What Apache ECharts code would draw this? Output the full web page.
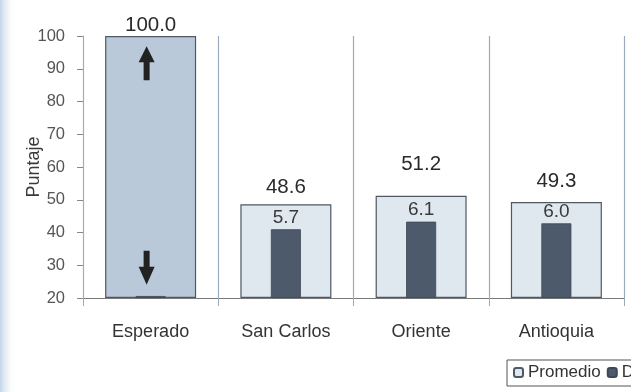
<!DOCTYPE html>
<html>
<head>
<meta charset="utf-8">
<script src="https://cdn.jsdelivr.net/npm/echarts@6/dist/echarts.min.js"></script>
<style>
html,body{margin:0;padding:0;background:#fff;}
#c{width:631px;height:392px;}
</style>
</head>
<body>
<div id="c"></div>
<script>
var categories = ['Esperado', 'San Carlos', 'Oriente', 'Antioquia'];
var promedio = [100.0, 48.6, 51.2, 49.3];
var promedioLabelGap = [0, 6, 21, 10];
var darkHeights = [20.6, 41.0, 43.3, 42.8];
var darkLabels = ['', '5.7', '6.1', '6.0'];
var arrowUpAt = 91.7;
var arrowDownAt = 29.2;

var FONT = 'Liberation Sans, Arial, sans-serif';
var upPath = 'path://M8,0 L16,16 L11,16 L11,34 L5,34 L5,16 L0,16 Z';
var downPath = 'path://M5,0 L11,0 L11,16 L16,16 L8,34 L0,16 L5,16 Z';

var chart = echarts.init(document.getElementById('c'));
chart.setOption({
  backgroundColor: '#ffffff',
  animation: false,
  graphic: [{
    type: 'rect', left: 0, top: 0, z: -10,
    shape: {width: 16, height: 392},
    style: {fill: new echarts.graphic.LinearGradient(0, 0, 1, 0, [
      {offset: 0, color: '#c3d6e6'}, {offset: 1, color: 'rgba(255,255,255,0)'}])}
  }],
  grid: {left: 83, right: 7, top: 36, bottom: 94},
  legend: {
    left: 507, top: 360, width: 400,
    orient: 'horizontal',
    borderColor: '#555', borderWidth: 1,
    padding: [4, 6, 5, 6],
    itemWidth: 9, itemHeight: 9, itemGap: 6,
    textStyle: {fontFamily: FONT, fontSize: 17, color: '#333'},
    data: ['Promedio', 'Desviación estándar']
  },
  xAxis: [{
    type: 'category', data: categories,
    axisLine: {show: true, lineStyle: {color: '#7a7a7a', width: 1}},
    axisTick: {show: true, length: 8, lineStyle: {color: '#9aabbd'}},
    splitLine: {show: true, lineStyle: {color: '#9aabbd', width: 1.2}},
    axisLabel: {fontFamily: FONT, fontSize: 18, color: '#333', margin: 25}
  }, {
    type: 'category', data: categories, show: false
  }],
  yAxis: {
    type: 'value', min: 20, max: 100, interval: 10, startValue: 20,
    name: 'Puntaje', nameLocation: 'middle', nameGap: 40, nameRotate: 90,
    nameMoveOverlap: false,
    nameTextStyle: {fontFamily: FONT, fontSize: 18, color: '#3a3a3a'},
    axisLine: {show: true, lineStyle: {color: '#aaa'}},
    axisTick: {show: true, length: 6, lineStyle: {color: '#888'}},
    splitLine: {show: false},
    axisLabel: {fontFamily: FONT, fontSize: 16.5, color: '#555', margin: 18}
  },
  series: [{
    name: 'Promedio', type: 'bar', xAxisIndex: 0, barWidth: 91,
    itemStyle: {color: '#dfe7ef', borderColor: '#4f5964', borderWidth: 1.2},
    data: promedio.map(function (v, i) {
      return {
        value: v,
        itemStyle: i === 0 ? {color: '#b9c9d9'} : undefined,
        label: {distance: promedioLabelGap[i]}
      };
    }),
    label: {
      show: true, position: 'top', fontFamily: FONT, fontSize: 20.5, color: '#2a2a2a',
      formatter: function (p) { return p.value.toFixed(1); }
    },
    markPoint: {
      silent: true,
      label: {show: false},
      itemStyle: {color: '#222'},
      data: [
        {coord: [categories[0], arrowUpAt], symbol: upPath, symbolSize: [16, 34], symbolOffset: [-4, 0]},
        {coord: [categories[0], arrowDownAt], symbol: downPath, symbolSize: [16, 34], symbolOffset: [-4, 0]}
      ]
    }
  }, {
    name: 'Desviación estándar', type: 'bar', xAxisIndex: 1, barWidth: 30,
    itemStyle: {color: '#4d5a6b', borderColor: '#3e4856', borderWidth: 0.8},
    data: darkHeights,
    label: {
      show: true, position: 'top', distance: 2, fontFamily: FONT, fontSize: 19, color: '#3a3a3a',
      formatter: function (p) { return darkLabels[p.dataIndex]; }
    }
  }]
});
</script>
</body>
</html>
